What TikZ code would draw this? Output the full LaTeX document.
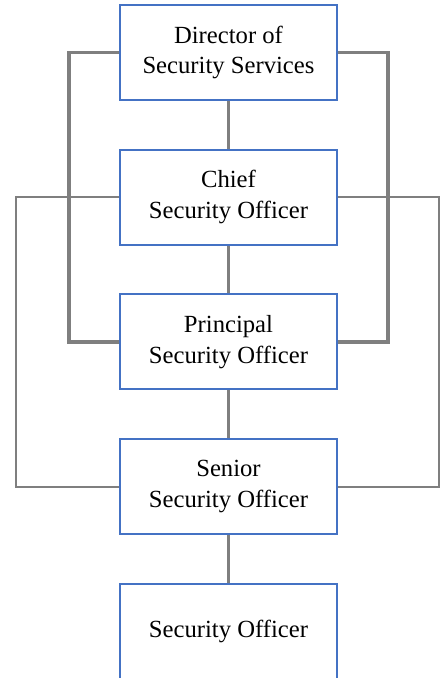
\documentclass[tikz,border=0pt]{standalone}
\usepackage{fontspec}
\setmainfont{Liberation Serif}
\usepackage{xcolor}
\usetikzlibrary{positioning}
\definecolor{boxblue}{HTML}{4472C4}
\definecolor{linegray}{HTML}{7F7F7F}
\tikzset{rank/.style={rectangle, draw=boxblue, line width=1.5pt, fill=white,
minimum width=162.75pt, minimum height=71.25pt, text centered, align=center,
font=\fontsize{18.5}{23}\selectfont}}
\tikzset{heavylink/.style={draw=linegray, line width=2.4pt}}
\tikzset{lightlink/.style={draw=linegray, line width=1.5pt}}

\begin{document}
\begin{tikzpicture}[x=0.75pt,y=-0.75pt,node distance=35.8pt]

% frame
\useasboundingbox (0,0) rectangle (441,678);

% The ranks
\node[rank] (dir) at (228.5,52.5) {Director of\\Security Services};
\node[rank, below=of dir] (chief) {Chief\\Security Officer};
\node[rank, below=of chief] (princ) {Principal\\Security Officer};
\node[rank, below=of princ] (senior) {Senior\\Security Officer};
\node[rank, below=of senior] (officer) {Security Officer};

% Direct line
\draw[heavylink] (dir) -- (chief);
\draw[heavylink] (chief) -- (princ);
\draw[heavylink] (princ) -- (senior);
\draw[heavylink] (senior) -- (officer);

% Outer loops
\draw[heavylink] (dir.west) -- ++(-50,0) |- (princ.west);
\draw[heavylink] (dir.east) -- ++(50,0) |- (princ.east);
\draw[lightlink] (chief.west) -- ++(-103,0) |- (senior.west);
\draw[lightlink] (chief.east) -- ++(101,0) |- (senior.east);

\end{tikzpicture}
\end{document}
